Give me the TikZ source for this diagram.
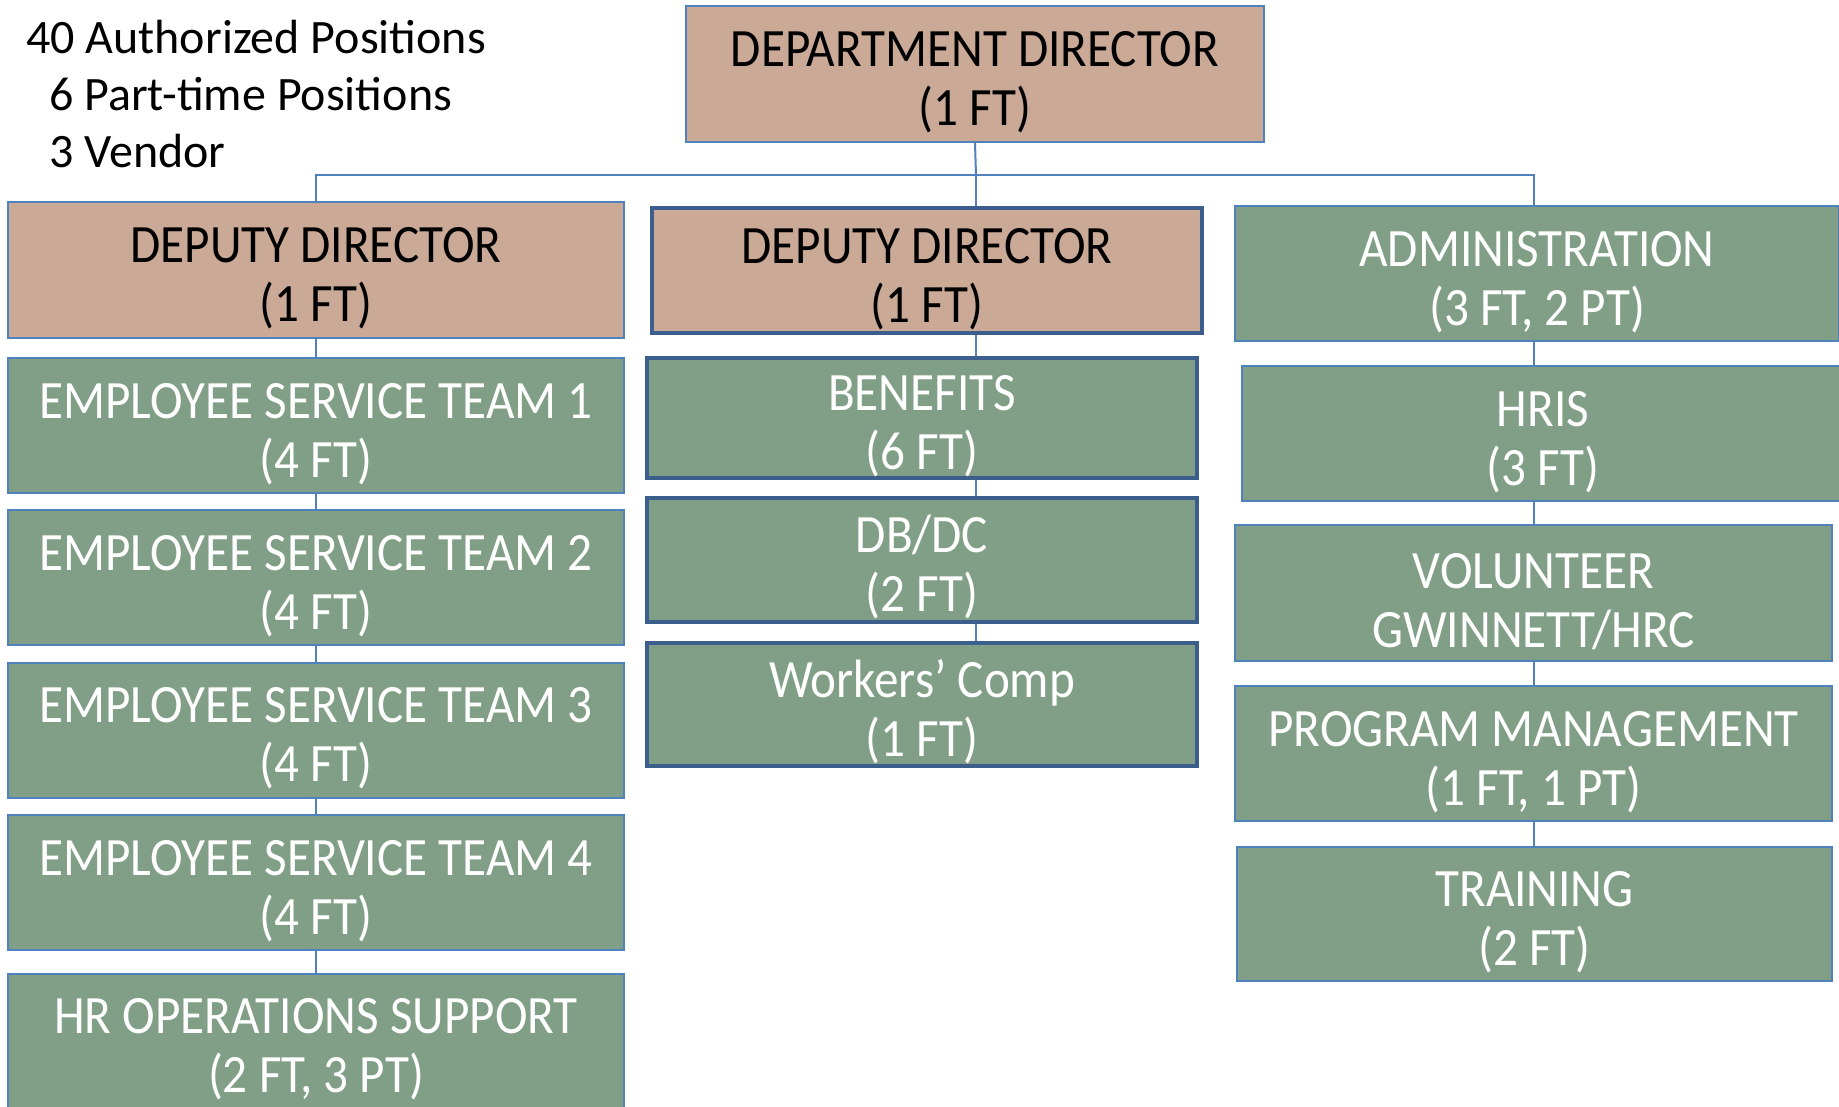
\documentclass[tikz,border=0pt]{standalone}
\usepackage{fontspec}
\setmainfont{Carlito}
\newfontfamily\boxfont[FakeStretch=0.91]{Carlito}
\usetikzlibrary{backgrounds}
\definecolor{tan}{HTML}{CAA997}
\definecolor{sage}{HTML}{819F86}
\definecolor{rule}{HTML}{4F81BD}
\definecolor{navy}{HTML}{3B5E8C}
% taller first line so the two text lines sit a little lower in each box
\newcommand\toprow{\rule{0pt}{52pt}}
\tikzset{
  unit/.style={draw=rule, line width=2pt, fill=sage, text=white,
    minimum width=616pt, minimum height=135pt, inner sep=0pt, align=center,
    font=\boxfont\fontsize{54}{59}\selectfont},
  lead/.style={unit, fill=tan, text=black},
  heavy/.style={draw=navy, line width=4pt},
  link/.style={draw=rule, line width=2pt},
  count/.style={anchor=base west, inner sep=0pt, font=\fontsize{48}{57}\selectfont},
}
\begin{document}
\begin{tikzpicture}[x=1pt, y=-1pt]
\useasboundingbox (0,0) rectangle (1839,1107);
\clip (0,0) rectangle (1839,1107);

% headcount summary
\node[count] (c1) at (26,53.5) {40 Authorized Positions};
\node[count] (c2) at (49,111) {6 Part-time Positions};
\node[count] (c3) at (49,168) {3 Vendor};

% top of the chart
\node[lead, minimum width=578pt, minimum height=136pt] (dept) at (975,74) {\toprow DEPARTMENT DIRECTOR\\(1 FT)};

% left branch
\node[lead, minimum height=136pt] (dep1) at (316,270) {\toprow DEPUTY DIRECTOR\\(1 FT)};
\node[unit] (e1) at (316,425.5) {\toprow EMPLOYEE SERVICE TEAM 1\\(4 FT)};
\node[unit] (e2) at (316,577.5) {\toprow EMPLOYEE SERVICE TEAM 2\\(4 FT)};
\node[unit] (e3) at (316,730) {\toprow EMPLOYEE SERVICE TEAM 3\\(4 FT)};
\node[unit] (e4) at (316,882.5) {\toprow EMPLOYEE SERVICE TEAM 4\\(4 FT)};
\node[unit] (ops) at (316,1041) {\toprow HR OPERATIONS SUPPORT\\(2 FT, 3 PT)};

% middle branch
\node[lead, heavy, minimum width=550pt, minimum height=125pt] (dep2) at (927,270.5) {\toprow DEPUTY DIRECTOR\\(1 FT)};
\node[unit, heavy, minimum width=550pt, minimum height=120pt] (ben) at (922,418) {\toprow BENEFITS\\(6 FT)};
\node[unit, heavy, minimum width=550pt, minimum height=124pt] (dbdc) at (922,560) {\toprow DB/DC\\(2 FT)};
\node[unit, heavy, minimum width=550pt, minimum height=123pt] (wc) at (922,704.5) {\toprow Workers’ Comp\\(1 FT)};

% right branch
\node[unit, minimum width=604pt] (adm) at (1537,273.5) {\toprow ADMINISTRATION\\(3 FT, 2 PT)};
\node[unit, minimum width=602pt] (hris) at (1543,433.5) {\toprow HRIS\\(3 FT)};
\node[unit, minimum width=597pt, minimum height=136pt] (vol) at (1533.5,593) {\toprow VOLUNTEER\\GWINNETT/HRC};
\node[unit, minimum width=597pt] (pm) at (1533.5,753.5) {\toprow PROGRAM MANAGEMENT\\(1 FT, 1 PT)};
\node[unit, minimum width=595pt, minimum height=134pt] (tr) at (1534.5,913.5) {\toprow TRAINING\\(2 FT)};

% connectors
\coordinate (bar) at (976,175);
\coordinate (rx) at (1534,175);
\begin{scope}[on background layer]
  \draw[link] (dept.south) -- (bar);
  \draw[link] (dep1.north) |- (bar) -| (rx) -- (rx |- adm.north);
  \draw[link] (bar) -- (bar |- dep2.north);
  \foreach \a/\b in {dep1/e1, e1/e2, e2/e3, e3/e4, e4/ops}
    \draw[link] (\a.south) -- (\b.north);
  \foreach \a/\b in {dep2/ben, ben/dbdc, dbdc/wc}
    \draw[link] (bar |- \a.south) -- (bar |- \b.north);
  \foreach \a/\b in {adm/hris, hris/vol, vol/pm, pm/tr}
    \draw[link] (rx |- \a.south) -- (rx |- \b.north);
\end{scope}
\end{tikzpicture}
\end{document}
